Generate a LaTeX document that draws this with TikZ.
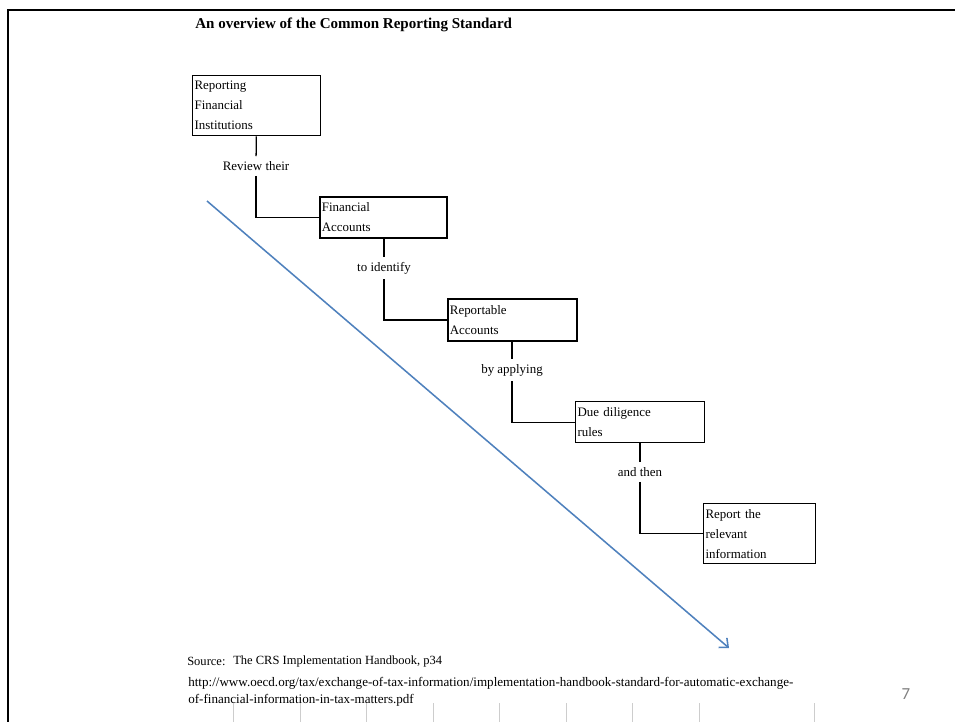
\documentclass[tikz,border=0pt]{standalone}
\usepackage{fontspec}
\setmainfont{Liberation Serif}
\newfontfamily\pagenumfont{Carlito}
\usetikzlibrary{arrows.meta}
\definecolor{crsblue}{RGB}{79,129,189}
\definecolor{tickgray}{RGB}{205,205,205}
\begin{document}
\begin{tikzpicture}[x=0.025cm, y=-0.025cm,
    stage/.style={draw, line width=0.9pt, anchor=north west, align=left, inner xsep=1.4pt, inner ysep=0pt, font=\fontsize{9.2}{14.2}\selectfont},
    verb/.style={inner xsep=1pt, inner ysep=3.5pt, font=\fontsize{9.2}{11}\selectfont},
    note/.style={anchor=west, inner xsep=0pt, font=\fontsize{8.9}{11}\selectfont},
    link/.style={line width=0.9pt}]
\useasboundingbox (0,0) rectangle (955,722);
\draw[line width=1.8pt] (8,722) -- (8,10) -- (955,10);
\node[anchor=west, inner xsep=0pt, font=\bfseries\fontsize{10.7}{12}\selectfont] (title) at (195,25) {An overview of the Common Reporting Standard};

\node[stage, text width=3.1cm, minimum height=1.5cm] (rfi) at (192,75) {Reporting\\Financial\\Institutions};
\node[stage, line width=1.3pt, text width=3.08cm, minimum height=1.025cm] (fa) at (319,196) {Financial\\Accounts};
\node[stage, line width=1.3pt, text width=3.12cm, minimum height=1.05cm] (ra) at (447,298) {Reportable\\Accounts};
\node[stage, text width=3.12cm, minimum height=1.025cm] (ddr) at (575,401) {Due diligence\\rules};
\node[stage, text width=2.7cm, minimum height=1.5cm] (rri) at (703,503) {Report the\\relevant\\information};

\node[verb] (review) at (256,166) {Review their};
\node[verb] (identify) at (384,268) {to identify};
\node[verb] (applying) at (512,370) {by applying};
\node[verb] (then) at (640,472) {and then};

\draw[link] (rfi) -- (review);
\draw[link] (review) |- (fa);
\draw[link] (fa.south -| identify) -- (identify);
\draw[link] (identify) |- (ra);
\draw[link] (ra.south -| applying) -- (applying);
\draw[link] (applying) |- (ddr);
\draw[link] (ddr.south -| then) -- (then);
\draw[link] (then) |- (rri);

\coordinate (flowstart) at (207,201);
\coordinate (flowend) at (729,648);
\draw[crsblue, line width=1.1pt, -{Straight Barb[length=5pt, width=9pt]}] (flowstart) -- (flowend);

\node[note] (source) at (187,661) {Source:};
\node[note] (handbook) at (233,661) {The CRS Implementation Handbook, p34};
\node[note, align=left, font=\fontsize{9.3}{12}\selectfont] (url) at (188,692) {http://www.oecd.org/tax/exchange-of-tax-information/implementation-handbook-standard-for-automatic-exchange-\\of-financial-information-in-tax-matters.pdf};
\node[gray, font=\pagenumfont\fontsize{12}{14}\selectfont] (pagenum) at (906,694) {7};

\foreach \tx in {233,300,366,433,499,566,632,699,814}
  \draw[tickgray, line width=0.6pt] (\tx,703) -- (\tx,722);
\end{tikzpicture}
\end{document}
